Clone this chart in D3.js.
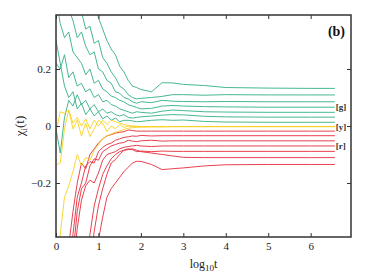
<!DOCTYPE html>
<html>
<head>
<meta charset="utf-8">
<script src="https://cdn.jsdelivr.net/npm/d3@7"></script>
<style>
  body { margin: 0; background: #fff; }
  svg { display: block; font-family: "Liberation Serif", "DejaVu Serif", serif; }
  .tick text { font-size: 11px; fill: #222; }
</style>
</head>
<body>
<svg id="chart" width="374" height="280"></svg>
<script>
// log10 t sample points
const logT = [0, 0.1, 0.2, 0.3, 0.4, 0.5, 0.6, 0.7, 0.8, 0.9, 1.0, 1.1, 1.2, 1.3, 1.4, 1.5, 1.6, 1.7, 1.8, 1.9, 2.0, 2.25, 2.5, 2.75, 3.0, 3.5, 4.0, 5.0, 6.0, 6.57];

// [g] series
const green = [
  [0.70, 0.68, 0.66, 0.64, 0.62, 0.60, 0.56, 0.52, 0.48, 0.44, 0.38, 0.34, 0.30, 0.27, 0.25, 0.21, 0.19, 0.16, 0.14, 0.135, 0.128, 0.12, 0.152, 0.151, 0.146, 0.142, 0.135, 0.133, 0.132, 0.132],
  [0.60, 0.58, 0.56, 0.54, 0.50, 0.45, 0.40, 0.34, 0.35, 0.29, 0.30, 0.24, 0.22, 0.19, 0.17, 0.14, 0.13, 0.11, 0.10, 0.095, 0.097, 0.10, 0.104, 0.11, 0.11, 0.108, 0.11, 0.109, 0.109, 0.109],
  [0.50, 0.48, 0.45, 0.41, 0.37, 0.31, 0.33, 0.28, 0.25, 0.26, 0.20, 0.19, 0.16, 0.15, 0.12, 0.115, 0.10, 0.095, 0.085, 0.08, 0.085, 0.082, 0.09, 0.087, 0.086, 0.085, 0.086, 0.085, 0.085, 0.085],
  [0.45, 0.36, 0.31, 0.33, 0.26, 0.24, 0.22, 0.18, 0.20, 0.15, 0.16, 0.13, 0.12, 0.105, 0.10, 0.09, 0.085, 0.075, 0.07, 0.065, 0.06, 0.062, 0.07, 0.072, 0.07, 0.068, 0.067, 0.066, 0.066, 0.066],
  [0.22, 0.20, 0.25, 0.17, 0.19, 0.14, 0.15, 0.12, 0.13, 0.10, 0.11, 0.085, 0.09, 0.075, 0.07, 0.06, 0.055, 0.05, 0.045, 0.05, 0.048, 0.045, 0.052, 0.056, 0.054, 0.05, 0.049, 0.048, 0.048, 0.048],
  [-0.01, -0.095, 0.03, 0.09, 0.07, 0.11, 0.075, 0.09, 0.06, 0.075, 0.05, 0.06, 0.045, 0.05, 0.04, 0.035, 0.04, 0.03, 0.028, 0.03, 0.032, 0.035, 0.038, 0.04, 0.039, 0.034, 0.032, 0.031, 0.031, 0.031],
  [0.30, 0.22, 0.14, 0.10, 0.12, 0.06, 0.08, 0.04, 0.06, 0.035, 0.05, 0.025, 0.035, 0.02, 0.028, 0.015, 0.02, 0.02, 0.018, 0.015, 0.016, 0.02, 0.022, 0.02, 0.021, 0.016, 0.014, 0.013, 0.013, 0.013]
];

// [y] series
const yellow = [
  [-0.55, -0.38, -0.25, -0.21, -0.16, -0.10, -0.14, -0.11, -0.12, -0.085, -0.065, -0.045, -0.035, -0.028, -0.022, -0.018, -0.012, -0.008, -0.006, -0.005, -0.004, -0.003, -0.003, -0.002, -0.002, -0.002, -0.002, -0.002, -0.002, -0.002],
  [-0.136, -0.13, -0.01, 0.056, -0.01, 0.02, -0.035, 0.01, -0.037, -0.01, 0.02, 0.01, -0.02, 0.0, -0.01, 0.005, -0.005, 0.0, -0.002, -0.001, -0.002, -0.002, -0.002, -0.002, -0.002, -0.002, -0.002, -0.002, -0.002, -0.002],
  [-0.02, 0.05, 0.045, 0.056, 0.01, 0.03, 0.0, 0.025, -0.01, 0.02, 0.0, 0.02, 0.005, 0.02, 0.015, 0.01, 0.005, 0.002, 0.0, -0.001, -0.002, -0.002, -0.002, -0.002, -0.002, -0.002, -0.002, -0.002, -0.002, -0.002]
];

// [r] series
const red = [
  [-0.7, -0.65, -0.55, -0.42, -0.30, -0.20, -0.13, -0.15, -0.10, -0.08, -0.06, -0.045, -0.035, -0.03, -0.025, -0.022, -0.02, -0.014, -0.016, -0.018, -0.018, -0.018, -0.018, -0.018, -0.018, -0.018, -0.018, -0.018, -0.018, -0.018],
  [-0.7, -0.7, -0.65, -0.5, -0.38, -0.25, -0.20, -0.14, -0.125, -0.13, -0.09, -0.075, -0.065, -0.06, -0.05, -0.045, -0.04, -0.038, -0.035, -0.036, -0.033, -0.035, -0.034, -0.034, -0.034, -0.034, -0.034, -0.034, -0.034, -0.034],
  [-0.7, -0.7, -0.7, -0.6, -0.45, -0.30, -0.22, -0.20, -0.14, -0.115, -0.12, -0.09, -0.08, -0.07, -0.065, -0.06, -0.058, -0.05, -0.053, -0.055, -0.052, -0.05, -0.053, -0.052, -0.052, -0.052, -0.052, -0.052, -0.052, -0.052],
  [-0.7, -0.7, -0.7, -0.65, -0.5, -0.36, -0.26, -0.21, -0.19, -0.20, -0.165, -0.12, -0.10, -0.095, -0.09, -0.08, -0.075, -0.072, -0.07, -0.068, -0.07, -0.072, -0.07, -0.07, -0.07, -0.07, -0.07, -0.07, -0.07, -0.07],
  [-0.7, -0.7, -0.7, -0.7, -0.7, -0.7, -0.65, -0.5, -0.38, -0.28, -0.22, -0.17, -0.14, -0.115, -0.10, -0.09, -0.085, -0.08, -0.083, -0.09, -0.088, -0.09, -0.088, -0.089, -0.089, -0.089, -0.089, -0.089, -0.089, -0.089],
  [-0.7, -0.7, -0.7, -0.7, -0.7, -0.7, -0.7, -0.62, -0.48, -0.37, -0.28, -0.22, -0.17, -0.13, -0.118, -0.10, -0.085, -0.083, -0.08, -0.085, -0.09, -0.095, -0.10, -0.105, -0.11, -0.111, -0.111, -0.111, -0.111, -0.111],
  [-0.7, -0.7, -0.7, -0.7, -0.7, -0.7, -0.7, -0.7, -0.62, -0.5, -0.4, -0.32, -0.25, -0.22, -0.20, -0.18, -0.16, -0.145, -0.13, -0.124, -0.124, -0.135, -0.153, -0.15, -0.147, -0.14, -0.136, -0.135, -0.135, -0.135]
];

const xTicks = [0, 1, 2, 3, 4, 5, 6];
const yTicks = [-0.2, 0, 0.2];
const groupLabels = [
  { text: '[g]', value: 0.066 },
  { text: '[y]', value: -0.002 },
  { text: '[r]', value: -0.070 }
];

const svg = d3.select('#chart');
const margin = { top: 15, right: 23, bottom: 43, left: 56 };
const width = 374 - margin.left - margin.right,
  height = 280 - margin.top - margin.bottom;

const g = svg.append('g').attr('transform', `translate(${margin.left},${margin.top})`);

const x = d3.scaleLinear().domain([0, 6.95]).range([0, width]);
const y = d3.scaleLinear().domain([-0.3895, 0.3895]).range([height, 0]);

g.append('clipPath').attr('id', 'plot-clip')
  .append('rect').attr('width', width).attr('height', height);

const line = d3.line()
  .x((d, i) => x(logT[i]))
  .y((d) => y(d));

const plot = g.append('g').attr('clip-path', 'url(#plot-clip)');

function drawSet(set, color) {
  plot.append('g')
    .selectAll('path')
    .data(set)
    .join('path')
    .attr('d', line)
    .attr('fill', 'none')
    .attr('stroke', color)
    .attr('stroke-width', 1)
    .attr('stroke-opacity', 0.9);
}

drawSet(green, '#33b083');
drawSet(red, '#e42c3c');
drawSet(yellow, '#f8d21e');

// axes, ticks pointing inward on all four sides
const fmt = (d) => (d === 0 ? '0' : d3.format('.1f')(d));

const styleAxis = (sel) => {
  sel.attr('font-family', null).attr('font-size', null);
  sel.select('.domain').remove();
  sel.selectAll('.tick line').attr('stroke', '#333').attr('stroke-width', 1);
};

g.append('g')
  .call(d3.axisLeft(y).tickValues(yTicks).tickFormat(fmt).tickSize(-4).tickPadding(5))
  .call(styleAxis);

g.append('g')
  .attr('transform', `translate(${width},0)`)
  .call(d3.axisRight(y).tickValues(yTicks).tickFormat('').tickSize(-4))
  .call(styleAxis);

g.append('g')
  .attr('transform', `translate(0,${height})`)
  .call(d3.axisBottom(x).tickValues(xTicks).tickFormat(d3.format('d')).tickSize(-4).tickPadding(5))
  .call(styleAxis);

g.append('g')
  .call(d3.axisTop(x).tickValues(xTicks).tickFormat('').tickSize(-4))
  .call(styleAxis);

// frame
g.append('rect')
  .attr('width', width)
  .attr('height', height)
  .attr('fill', 'none')
  .attr('stroke', '#333')
  .attr('stroke-width', 1.5);

// group labels at the right
g.selectAll('.grp')
  .data(groupLabels)
  .join('text')
  .attr('class', 'grp')
  .attr('x', x(6.57) + 1)
  .attr('y', (d) => y(d.value))
  .attr('dy', '0.35em')
  .attr('font-size', 9)
  .attr('font-weight', 'bold')
  .attr('fill', '#333')
  .text((d) => d.text);

// panel tag
g.append('text')
  .attr('x', width - 6)
  .attr('y', 21)
  .attr('text-anchor', 'end')
  .attr('font-size', 14)
  .attr('font-weight', 'bold')
  .attr('fill', '#111')
  .text('(b)');

// axis titles
const xl = svg.append('text')
  .attr('x', margin.left + width / 2)
  .attr('y', 268)
  .attr('text-anchor', 'middle')
  .attr('font-size', 12)
  .attr('fill', '#222');
xl.append('tspan').text('log');
xl.append('tspan').attr('font-size', 9).attr('dy', 3).text('10');
xl.append('tspan').attr('dy', -3).text('t');

const yl = svg.append('text')
  .attr('transform', `translate(24,${margin.top + y(0)}) rotate(-90)`)
  .attr('text-anchor', 'middle')
  .attr('font-size', 13)
  .attr('fill', '#222');
yl.append('tspan').text('χ');
yl.append('tspan').attr('font-size', 9).attr('dy', 3).text('i');
yl.append('tspan').attr('dy', -3).text('(t)');
</script>
</body>
</html>
